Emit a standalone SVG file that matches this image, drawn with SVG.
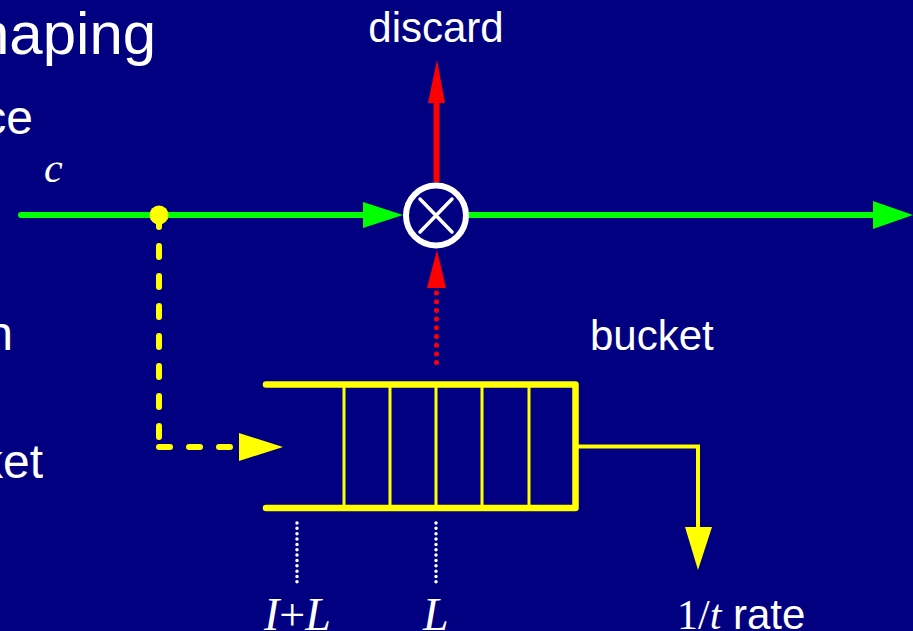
<svg xmlns="http://www.w3.org/2000/svg" width="913" height="631" viewBox="0 0 913 631">
<defs>
<style>
.sans{font-family:"Liberation Sans",Arial,sans-serif;fill:#fff}
.serif{font-family:"Liberation Serif","Times New Roman",serif;fill:#fff}
.it{font-style:italic}
.g{stroke:#00ff00;stroke-width:6;stroke-linecap:round;fill:none}
.y{stroke:#ffff00;fill:none;stroke-linecap:round}
.r{stroke:#ff0000;fill:none}
</style>
</defs>
<rect width="913" height="631" fill="#000080"/>
<g id="text-left">
<text class="sans" x="-24" y="54" font-size="60">haping</text>
<text class="sans" x="33" y="134" font-size="48" text-anchor="end">ce</text>
<text class="sans" x="13" y="350" font-size="48" text-anchor="end">n</text>
<text class="sans" x="43" y="478" font-size="48" text-anchor="end">ket</text>
<text class="serif it" x="44" y="182" font-size="42">c</text>
</g>
<g id="connectors">
<path class="g" d="M21,215 H366"/>
<polygon points="363,202 403,215 363,228" fill="#00ff00"/>
<path class="g" d="M469,215 H876"/>
<polygon points="873,201 913,215 873,229" fill="#00ff00"/>
<path class="r" d="M436.5,182 V100" stroke-width="6"/>
<polygon points="428,103 437,60 445,103" fill="#ff0000"/>
<polygon points="427,288 437,250 446,288" fill="#ff0000"/>
<path class="r" d="M436.5,293 V363" stroke-width="5" stroke-dasharray="0 8.7" stroke-linecap="round"/>
<path class="y" d="M159,216 V447" stroke-width="6" stroke-dasharray="11 19"/>
<path class="y" d="M159,447 H236" stroke-width="6" stroke-dasharray="11 19"/>
<polygon points="239,433 283,447 239,461" fill="#ffff00"/>
<path class="y" d="M576,446.5 H698 V530" stroke-width="4" stroke-linecap="butt" stroke-linejoin="miter"/>
<polygon points="685,527 712,527 698,570" fill="#ffff00"/>
<path d="M297,523 V582 M436,523 V582" stroke="#fff" stroke-width="3.5" stroke-dasharray="0 5.35" stroke-linecap="round" fill="none"/>
<circle cx="159" cy="215" r="9.5" fill="#ffff00"/>
</g>
<g id="multiplier">
<circle cx="436" cy="215.5" r="30" fill="none" stroke="#fff" stroke-width="6"/>
<path d="M420,199 L452,232 M452,199 L420,232" stroke="#fff" stroke-width="3.5" stroke-linecap="round"/>
</g>
<g id="bucket">
<path d="M266,384.5 H575.5 V508 H266" fill="none" stroke="#ffff00" stroke-width="6.5" stroke-linecap="round" stroke-linejoin="round"/>
<path d="M344,385 V508 M390,385 V508 M436,385 V508 M482,385 V508 M529,385 V508" stroke="#ffff00" stroke-width="3"/>
<text class="sans" x="590" y="350" font-size="42">bucket</text>
</g>
<g id="labels">
<text class="sans" x="436" y="42" font-size="42" text-anchor="middle">discard</text>
<text class="serif" x="264" y="630" font-size="46"><tspan class="it">I</tspan>+<tspan class="it">L</tspan></text>
<text class="serif it" x="423" y="630" font-size="46">L</text>
<text class="serif" x="677" y="629" font-size="42">1/<tspan class="it">t</tspan><tspan class="sans" font-size="42"> rate</tspan></text>
</g>
</svg>
